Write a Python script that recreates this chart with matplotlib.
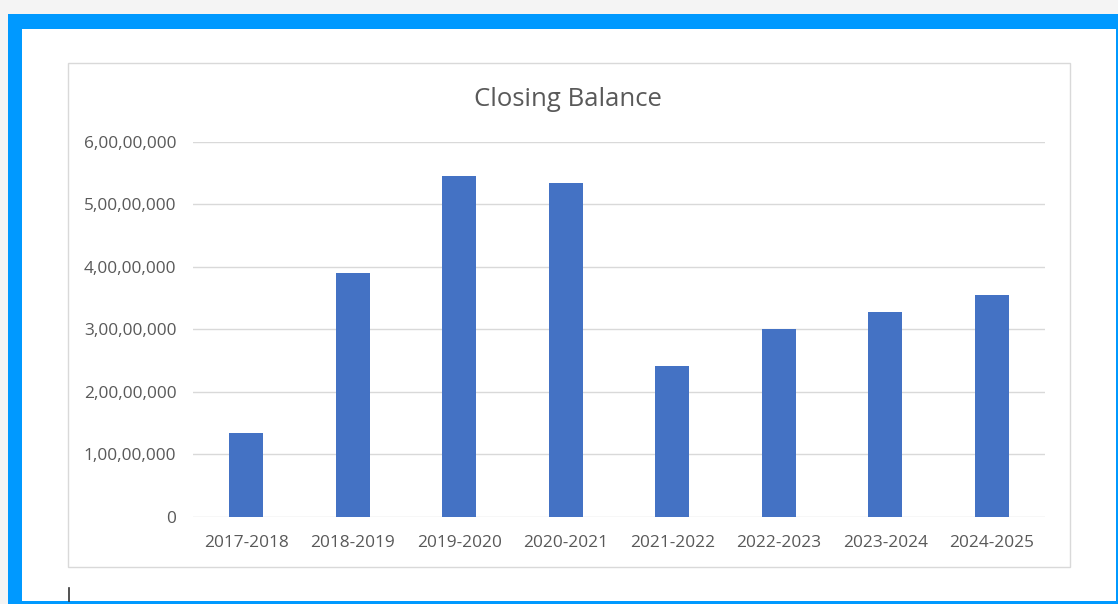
import matplotlib
matplotlib.use("Agg")
import matplotlib.pyplot as plt
from matplotlib.patches import Rectangle
from matplotlib.lines import Line2D
from matplotlib.ticker import FuncFormatter

categories = ["2017-2018", "2018-2019", "2019-2020", "2020-2021",
              "2021-2022", "2022-2023", "2023-2024", "2024-2025"]
closing_balance = [1.34e7, 3.90e7, 5.45e7, 5.35e7, 2.42e7, 3.01e7, 3.27e7, 3.55e7]
y_ticks = [0, 1e7, 2e7, 3e7, 4e7, 5e7, 6e7]
title = "Closing Balance"

W, H = 1118, 604
fig = plt.figure(figsize=(W / 100, H / 100), dpi=100)
fig.patch.set_facecolor("#f4f4f4")

def frac_rect(x0, y0, x1, y1, **kw):
    # pixel coords (top-left origin) -> figure fraction
    return Rectangle((x0 / W, 1 - y1 / H), (x1 - x0) / W, (y1 - y0) / H,
                     transform=fig.transFigure, **kw)

fig.patches.append(frac_rect(8, 14, W, H, facecolor="#0099ff", edgecolor="none", zorder=-3))
fig.patches.append(frac_rect(22, 29, 1116, 601, facecolor="white", edgecolor="none", zorder=-2))
fig.patches.append(frac_rect(68, 63, 1070, 567, facecolor="white", edgecolor="#d9d9d9", linewidth=1.0, zorder=-1))
fig.lines.append(Line2D([68.5 / W, 68.5 / W], [1 - 588 / H, 1 - 601 / H],
                        transform=fig.transFigure, color="#333333", linewidth=1.2))

ax = fig.add_axes([193 / W, 1 - 516.7 / H, (1045 - 193) / W, (516.7 - 142) / H])
ax.set_zorder(1)
ax.set_facecolor("white")
x = list(range(len(categories)))
ax.bar(x, closing_balance, width=0.32, color="#4472c4", zorder=3)
ax.set_xlim(-0.5, len(categories) - 0.5)
ax.set_ylim(0, 6e7)
ax.set_yticks(y_ticks)

def indian(v, pos):
    n = int(round(v))
    if n == 0:
        return "0"
    s = str(n)
    last3 = s[-3:]
    rest = s[:-3]
    parts = []
    while len(rest) > 2:
        parts.insert(0, rest[-2:])
        rest = rest[:-2]
    if rest:
        parts.insert(0, rest)
    return ",".join(parts + [last3])

ax.yaxis.set_major_formatter(FuncFormatter(indian))
ax.set_xticks(x)
ax.set_xticklabels(categories)
ax.grid(axis="y", color="#d9d9d9", linewidth=1.0, zorder=0)
for s in ax.spines.values():
    s.set_visible(False)
ax.tick_params(length=0, colors="#595959", labelsize=12.4)
ax.tick_params(axis="y", pad=12)
ax.tick_params(axis="x", pad=13)
for lab in ax.get_xticklabels() + ax.get_yticklabels():
    lab.set_family("Open Sans")

fig.text(568 / W, 1 - 100 / H, title, ha="center", va="center",
         fontsize=18.5, color="#595959", family="Open Sans")

fig.savefig("out.png", dpi=100)
